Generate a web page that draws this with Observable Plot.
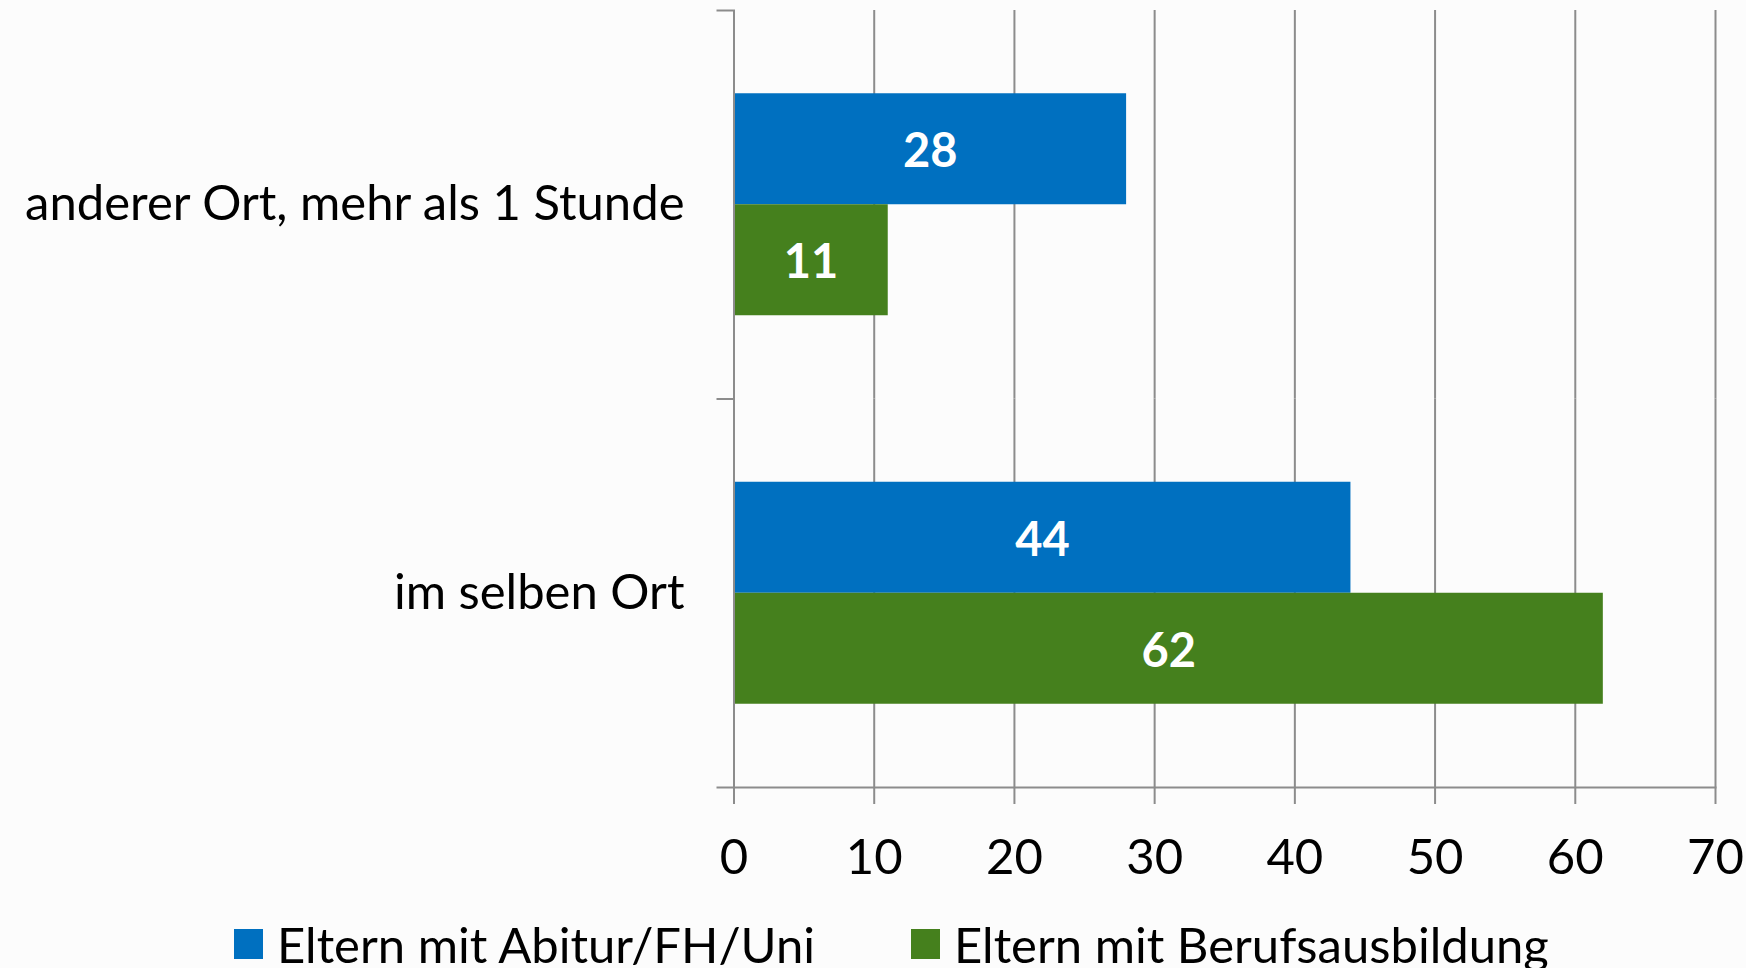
<!DOCTYPE html>
<html>
<head>
<meta charset="utf-8">
<script src="https://cdn.jsdelivr.net/npm/d3@7"></script>
<script src="https://cdn.jsdelivr.net/npm/@observablehq/plot@0.6"></script>
<style>
  html, body { margin: 0; padding: 0; background: #fcfcfc; overflow: hidden; }
  #chart svg { display: block; }
  #legend { position: relative; height: 78px; font-family: Lato, sans-serif; font-size: 49px; color: #000; }
  .item { position: absolute; top: 0; height: 78px; display: flex; align-items: center; white-space: nowrap; }
  .sw { width: 29px; height: 30px; margin-right: 14px; }
</style>
</head>
<body>
<div id="chart"></div>
<div id="legend"></div>
<script>
const categories = ["anderer Ort, mehr als 1 Stunde", "im selben Ort"];
const series = ["Eltern mit Abitur/FH/Uni", "Eltern mit Berufsausbildung"];
const abitur = [28, 44];
const beruf = [11, 62];
const xTicks = [0, 10, 20, 30, 40, 50, 60, 70];
const colors = ["#0070c0", "#45801d"];

const data = categories.flatMap((c, i) => [
  {cat: c, series: series[0], value: abitur[i]},
  {cat: c, series: series[1], value: beruf[i]}
]);

const W = 1746, H = 905, ML = 733.5, MR = 31, MT = 10, MB = 118;
const gridColor = "#8c8c8c";

const chart = Plot.plot({
  width: W, height: H,
  marginLeft: ML, marginRight: MR, marginTop: MT, marginBottom: MB,
  style: {fontFamily: "Lato, sans-serif", background: "transparent", overflow: "visible"},
  x: {domain: [0, 70], axis: null},
  y: {domain: series, paddingInner: 0, paddingOuter: 0.75, round: false, axis: null},
  fy: {domain: categories, padding: 0, round: false, axis: null},
  color: {domain: series, range: colors},
  marks: [
    Plot.ruleX(xTicks.slice(1), {stroke: gridColor, strokeWidth: 2}),
    Plot.barX(data, {fy: "cat", y: "series", x: "value", fill: "series"}),
    Plot.ruleX([0], {stroke: gridColor, strokeWidth: 2}),
    Plot.frame({anchor: "top", insetLeft: -16.5, insetRight: W - ML - MR, stroke: gridColor, strokeWidth: 2}),
    Plot.frame({anchor: "bottom", facetAnchor: "bottom", insetLeft: -16.5, stroke: gridColor, strokeWidth: 2}),
    Plot.axisX({ticks: xTicks, tickSize: 17, tickPadding: 35, fontSize: 49, stroke: gridColor, strokeWidth: 2, fill: "#000", label: null, tickFormat: d => String(d)}),
    Plot.axisFy({anchor: "left", tickSize: 0, tickPadding: 49.5, fontSize: 49, fill: "#000", label: null}),
    Plot.text(data, {fy: "cat", y: "series", x: d => d.value / 2, text: d => String(d.value), fill: "white", fontWeight: "bold", fontSize: 47, dy: 3})
  ]
});
document.getElementById("chart").appendChild(chart);

const legend = document.getElementById("legend");
const lefts = [234, 911];
series.forEach((s, i) => {
  const item = document.createElement("div");
  item.className = "item";
  item.style.left = lefts[i] + "px";
  const sw = document.createElement("div");
  sw.className = "sw";
  sw.style.background = colors[i];
  const t = document.createElement("span");
  t.textContent = s;
  item.appendChild(sw);
  item.appendChild(t);
  legend.appendChild(item);
});
</script>
</body>
</html>
